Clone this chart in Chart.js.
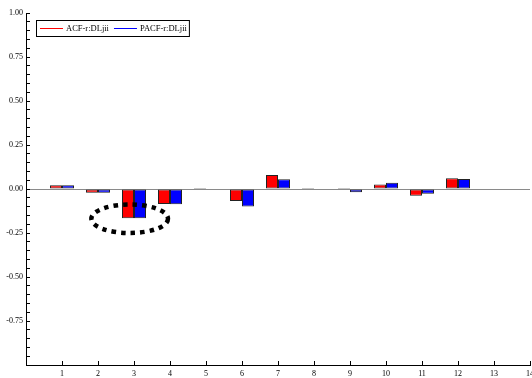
<!DOCTYPE html>
<html>
<head>
<meta charset="utf-8">
<script src="https://cdn.jsdelivr.net/npm/chart.js@4/dist/chart.umd.min.js"></script>
<style>
  html, body { margin: 0; padding: 0; background: #fff; }
</style>
</head>
<body>
<canvas id="acf-canvas" width="532" height="378"></canvas>
<script>
// lags and correlation values
var lags = [1, 2, 3, 4, 5, 6, 7, 8, 9, 10, 11, 12];
var acfValues = [0.022, -0.021, -0.166, -0.085, 0.006, -0.068, 0.080, 0.006, 0.005, 0.025, -0.038, 0.061];
var pacfValues = [0.022, -0.021, -0.166, -0.087, 0.003, -0.100, 0.055, -0.003, -0.019, 0.036, -0.027, 0.057];
var seriesLabels = ["ACF-r:DLjii", "PACF-r:DLjii"];
var xTickLabels = ["1", "2", "3", "4", "5", "6", "7", "8", "9", "10", "11", "12", "13", "14"];
var yMajorTicks = [1.00, 0.75, 0.50, 0.25, 0.00, -0.25, -0.50, -0.75];

var serif = "'Liberation Serif', 'DejaVu Serif', serif";

function points(values) {
  return lags.map(function(lag, i) {
    return { x: lag, y: values[i] };
  });
}

// dotted ellipse around lag 3 (data units)
var ellipsePlugin = {
  id: "ellipseMark",
  afterDatasetsDraw: function(chart) {
    var xs = chart.scales.x, ys = chart.scales.y, ctx = chart.ctx;
    var cx = xs.getPixelForValue(2.88), cy = ys.getPixelForValue(-0.169);
    var rx = xs.getPixelForValue(2.88 + 1.064) - cx;
    var ry = ys.getPixelForValue(-0.169 - 0.081) - cy;
    ctx.save();
    ctx.strokeStyle = "#000";
    ctx.lineWidth = 4.5;
    ctx.setLineDash([4.5, 5]);
    ctx.beginPath();
    ctx.ellipse(cx, cy, rx, ry, 0, 0, Math.PI * 2);
    ctx.stroke();
    ctx.restore();
  }
};

// boxed legend inside the plot, top left
var boxLegendPlugin = {
  id: "boxLegend",
  afterDraw: function(chart) {
    var ctx = chart.ctx;
    var left = chart.chartArea.left + 10, top = 20, h = 16;
    ctx.save();
    ctx.font = "8.5px " + serif;
    ctx.textBaseline = "middle";
    var x = left + 4, midY = top + h / 2;
    chart.data.datasets.forEach(function(ds) {
      ctx.strokeStyle = ds.backgroundColor;
      ctx.lineWidth = 1;
      ctx.beginPath();
      ctx.moveTo(x, midY + 0.5);
      ctx.lineTo(x + 23, midY + 0.5);
      ctx.stroke();
      x += 26;
      ctx.fillStyle = "#000";
      ctx.fillText(ds.label, x, midY + 0.5);
      x += ctx.measureText(ds.label).width + 5;
    });
    ctx.strokeStyle = "#000";
    ctx.lineWidth = 1;
    ctx.strokeRect(left + 0.5, top + 0.5, x - left - 3, h);
    ctx.restore();
  }
};

var barStyle = {
  borderColor: "#222",
  borderWidth: 1,
  borderSkipped: false,
  barPercentage: 1,
  categoryPercentage: 0.667
};

new Chart(document.getElementById("acf-canvas"), {
  type: "bar",
  data: {
    datasets: [
      Object.assign({ label: seriesLabels[0], data: points(acfValues), backgroundColor: "#ff0000" }, barStyle),
      Object.assign({ label: seriesLabels[1], data: points(pacfValues), backgroundColor: "#0000ff" }, barStyle)
    ]
  },
  options: {
    responsive: false,
    animation: false,
    layout: { padding: { top: 13, right: 2, bottom: 0, left: 0 } },
    plugins: {
      legend: { display: false },
      tooltip: { enabled: false }
    },
    scales: {
      x: {
        type: "linear",
        min: 0,
        max: 14,
        offset: false,
        border: { color: "#000", width: 1 },
        grid: { offset: false, drawOnChartArea: false, tickLength: -4, tickColor: "#000" },
        ticks: {
          stepSize: 1,
          autoSkip: false,
          maxRotation: 0,
          padding: 8,
          color: "#000",
          font: { family: serif, size: 8 },
          callback: function(v) {
            return v >= 1 ? xTickLabels[v - 1] : "";
          }
        },
        afterFit: function(s) {
          s.height = 13;
          s.paddingLeft = 0;
          s.paddingRight = 0;
        }
      },
      y: {
        type: "linear",
        min: -1,
        max: 1,
        border: { color: "#000", width: 1 },
        grid: {
          tickLength: -4,
          tickColor: "#000",
          color: function(c) {
            return c.tick && Math.abs(c.tick.value) < 1e-9 ? "#8a8a8a" : "rgba(0,0,0,0)";
          }
        },
        ticks: {
          stepSize: 0.05,
          maxTicksLimit: 100,
          autoSkip: false,
          padding: 7,
          color: "#000",
          font: { family: serif, size: 8 },
          callback: function(v) {
            for (var i = 0; i < yMajorTicks.length; i++) {
              if (Math.abs(v - yMajorTicks[i]) < 1e-9) return yMajorTicks[i].toFixed(2);
            }
            return "";
          }
        },
        afterFit: function(s) {
          s.width = 26;
          s.paddingTop = 0;
          s.paddingBottom = 0;
        }
      }
    }
  },
  plugins: [ellipsePlugin, boxLegendPlugin]
});
</script>
</body>
</html>
